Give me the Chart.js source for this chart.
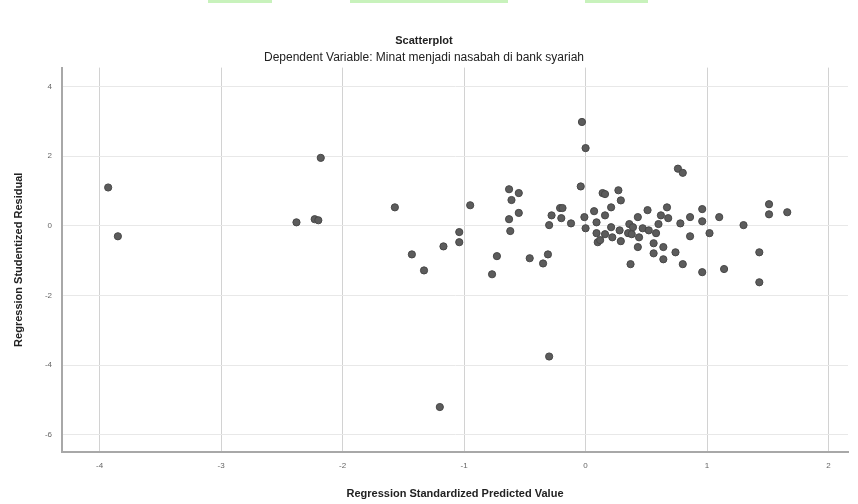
<!DOCTYPE html>
<html>
<head>
<meta charset="utf-8">
<script src="https://cdn.jsdelivr.net/npm/chart.js@4"></script>
<style>
html,body{margin:0;padding:0;background:#fff;}
#wrap{position:relative;width:858px;height:504px;}
.band{position:absolute;top:0;height:3px;background:#c8f2bc;}
</style>
</head>
<body>
<div id="wrap">
<div class="band" style="left:208px;width:64px"></div>
<div class="band" style="left:350px;width:158px"></div>
<div class="band" style="left:585px;width:63px"></div>
<canvas id="scatter" width="858" height="504"></canvas>
</div>
<script>
// predicted values (standardized) and studentized residuals
const predicted=[
-3.93,-3.85,-2.18,-2.38,-2.23,-2.20,-1.57,-1.43,-1.33,-1.17,-1.04,-1.04,
-0.95,-0.77,-0.73,-0.63,-0.55,-0.61,-0.55,-0.63,-0.62,-0.46,-0.35,-0.31,
-0.30,-0.30,-0.28,-0.21,-0.19,-0.20,-0.12,-0.03,0.00,-0.04,-0.01,0.00,
0.07,0.09,0.09,0.10,0.14,0.16,0.16,0.16,0.21,0.21,0.22,0.27,0.29,0.28,
0.29,0.35,0.36,0.38,0.39,0.37,0.43,0.43,0.44,0.47,0.51,0.52,0.58,0.60,
0.62,0.56,0.56,0.64,0.64,0.67,0.68,0.74,0.76,0.80,0.78,0.80,0.86,0.86,
0.96,0.96,0.96,1.02,1.10,1.14,1.30,1.43,1.43,1.51,1.51,1.66,-1.20,0.12
];
const residual=[
1.10,-0.30,1.95,0.10,0.19,0.16,0.53,-0.82,-1.28,-0.59,-0.18,-0.47,
0.59,-1.39,-0.87,1.05,0.94,0.74,0.37,0.19,-0.15,-0.93,-1.08,-0.82,
-3.75,0.02,0.30,0.51,0.51,0.22,0.07,2.98,2.23,1.13,0.25,-0.07,
0.42,0.10,-0.21,-0.47,0.94,0.91,0.30,-0.24,0.53,-0.04,-0.33,1.02,
0.73,-0.13,-0.44,-0.21,0.05,-0.24,-0.04,-1.10,0.25,-0.61,-0.33,-0.07,
0.45,-0.13,-0.21,0.05,0.30,-0.50,-0.79,-0.61,-0.96,0.53,0.22,-0.76,
1.64,1.52,0.07,-1.10,0.25,-0.30,0.48,0.13,-1.33,-0.21,0.25,-1.24,
0.02,-0.76,-1.62,0.62,0.33,0.39,-5.20,-0.41
];
const xTicks=[-4,-3,-2,-1,0,1,2];
const yTicks=[-6,-4,-2,0,2,4];

const points=predicted.map((x,i)=>({x:x,y:residual[i]}));

const ctx=document.getElementById("scatter").getContext("2d");

new Chart(ctx,{
type:"scatter",
data:{
datasets:[{
data:points,
backgroundColor:"#5c5c5c",
borderColor:"#474747",
borderWidth:1,
pointRadius:3.6,
pointHoverRadius:3.6
}]
},
options:{
responsive:false,
animation:false,
devicePixelRatio:1,
layout:{padding:{left:0,right:10,top:0,bottom:0}},
plugins:{
legend:{display:false},
tooltip:{enabled:false},
title:{
display:true,
text:"Scatterplot",
color:"#222",
font:{family:"Liberation Sans",size:11,weight:"bold"},
padding:{top:34,bottom:3}
},
subtitle:{
display:true,
text:"Dependent Variable: Minat menjadi nasabah di bank syariah",
color:"#222",
font:{family:"Liberation Sans",size:12},
padding:{top:0,bottom:3}
}
},
scales:{
x:{
type:"linear",
min:-4.31,
max:2.16,
afterBuildTicks:s=>{s.ticks=xTicks.map(v=>({value:v}));},
afterFit:s=>{s.height=52;},
grid:{color:"#d2d2d2",lineWidth:1,drawTicks:false},
border:{color:"#a8a8a8",width:2},
ticks:{color:"#666",font:{family:"Liberation Sans",size:8},padding:9},
title:{display:true,text:"Regression Standardized Predicted Value",color:"#222",
font:{family:"Liberation Sans",size:11,weight:"bold"},padding:{top:14,bottom:3}}
},
y:{
type:"linear",
min:-6.49,
max:4.54,
afterBuildTicks:s=>{s.ticks=yTicks.map(v=>({value:v}));},
afterFit:s=>{s.width=62;},
grid:{color:"#e8e8e8",lineWidth:1,drawTicks:false},
border:{color:"#a8a8a8",width:2},
ticks:{color:"#666",font:{family:"Liberation Sans",size:8},padding:10},
title:{display:true,text:"Regression Studentized Residual",color:"#222",
font:{family:"Liberation Sans",size:11,weight:"bold"},padding:{top:12,bottom:0}}
}
}
}
});
</script>
</body>
</html>
